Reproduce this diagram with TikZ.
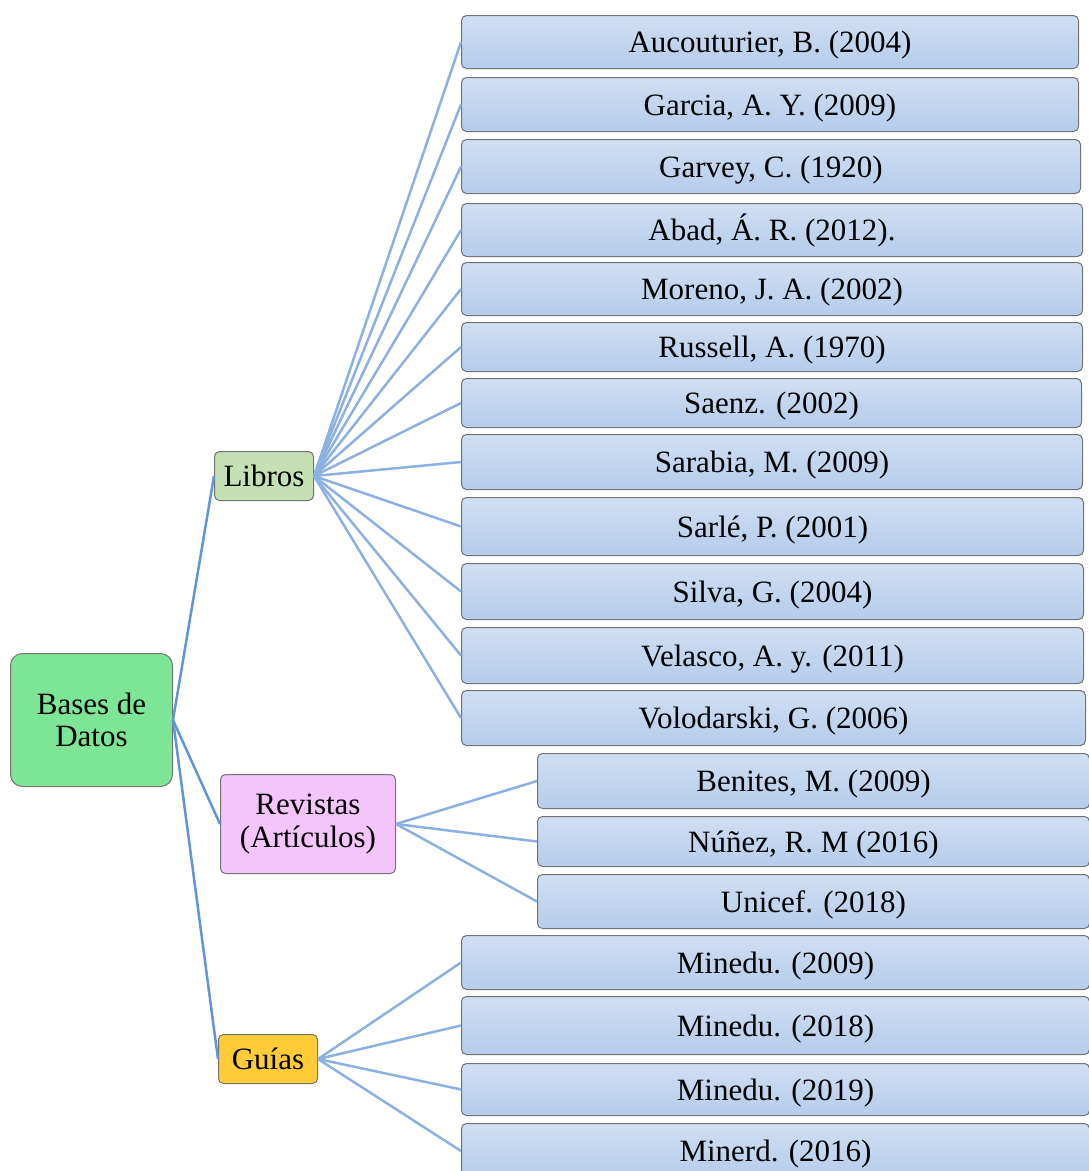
\documentclass[tikz,border=0pt]{standalone}
\usepackage{fontspec}
\setmainfont{Liberation Serif}
\definecolor{leaftop}{RGB}{208,223,243}
\definecolor{leafbot}{RGB}{181,204,235}
\definecolor{rootfill}{RGB}{124,230,150}
\definecolor{librosfill}{RGB}{197,224,180}
\definecolor{revfill}{RGB}{243,197,250}
\definecolor{guiafill}{RGB}{255,204,55}
\definecolor{rootedge}{RGB}{95,150,215}
\definecolor{leafedge}{RGB}{140,176,226}
\definecolor{boxline}{RGB}{115,115,115}
\begin{document}
\begin{tikzpicture}[x=1pt,y=-1pt,
  txt/.style={font=\fontsize{31}{34}\selectfont, align=center, inner sep=0pt, anchor=north west},
  leaf/.style={txt, draw=boxline, line width=1pt, rounded corners=5pt,
    top color=leaftop, bottom color=leafbot, minimum width=#1,
    text height=23.5pt, text depth=2.5pt},
  leaf/.default=617pt,
  mid/.style={txt, draw=boxline, line width=1pt, rounded corners=5pt},
  redge/.style={draw=rootedge, line width=2.5pt},
  ledge/.style={draw=leafedge, line width=2.5pt}]
\useasboundingbox (0,0) rectangle (1088,1171);

% root and category nodes
\node[mid, rounded corners=12pt, fill=rootfill, minimum width=162pt, minimum height=133pt] (root) at (10,653) {Bases de\\[-2pt]Datos};
\node[mid, fill=librosfill, minimum width=99pt, minimum height=49pt] (libros) at (214,451) {Libros};
\node[mid, fill=revfill, minimum width=175pt, minimum height=99pt] (rev) at (220,774) {Revistas\\[-1pt](Artículos)};
\node[mid, fill=guiafill, minimum width=99pt, minimum height=49pt] (guias) at (218,1034) {Guías};

% Libros leaves
\node[leaf=617pt, minimum height=53pt] (l1) at (461,15) {Aucouturier, B. (2004)};
\node[leaf=617pt, minimum height=54pt] (l2) at (461,77) {Garcia, A. Y. (2009)};
\node[leaf=619pt, minimum height=54pt] (l3) at (461,139) {Garvey, C. (1920)};
\node[leaf=621pt, minimum height=53pt] (l4) at (461,203) {Abad, Á. R. (2012).};
\node[leaf=621pt, minimum height=53pt] (l5) at (461,262) {Moreno, J. A. (2002)};
\node[leaf=621pt, minimum height=49pt] (l6) at (461,322) {Russell, A. (1970)};
\node[leaf=620pt, minimum height=49pt] (l7) at (461,378) {Saenz. (2002)};
\node[leaf=621pt, minimum height=55pt] (l8) at (461,434) {Sarabia, M. (2009)};
\node[leaf=622pt, minimum height=58pt] (l9) at (461,497) {Sarlé, P. (2001)};
\node[leaf=622pt, minimum height=56pt] (l10) at (461,563) {Silva, G. (2004)};
\node[leaf=622pt, minimum height=56pt] (l11) at (461,627) {Velasco, A. y. (2011)};
\node[leaf=624pt, minimum height=55pt] (l12) at (461,690) {Volodarski, G. (2006)};

% Revistas leaves
\node[leaf=552pt, minimum height=55pt] (r1) at (537,753) {Benites, M. (2009)};
\node[leaf=552pt, minimum height=50pt] (r2) at (537,816) {Núñez, R. M (2016)};
\node[leaf=552pt, minimum height=54pt] (r3) at (537,874) {Unicef. (2018)};

% Guias leaves
\node[leaf=628pt, minimum height=54pt] (g1) at (461,935) {Minedu. (2009)};
\node[leaf=628pt, minimum height=58pt] (g2) at (461,996) {Minedu. (2018)};
\node[leaf=628pt, minimum height=52pt] (g3) at (461,1063) {Minedu. (2019)};
\node[leaf=628pt, minimum height=55pt] (g4) at (461,1123) {Minerd. (2016)};

% connectors
\foreach \c in {libros,rev,guias} \draw[redge] (root.east) -- (\c.west);
\foreach \i in {1,...,12} \draw[ledge] (libros.east) -- (l\i.west);
\foreach \i in {1,2,3} \draw[ledge] (rev.east) -- (r\i.west);
\foreach \i in {1,...,4} \draw[ledge] (guias.east) -- (g\i.west);
\end{tikzpicture}
\end{document}
